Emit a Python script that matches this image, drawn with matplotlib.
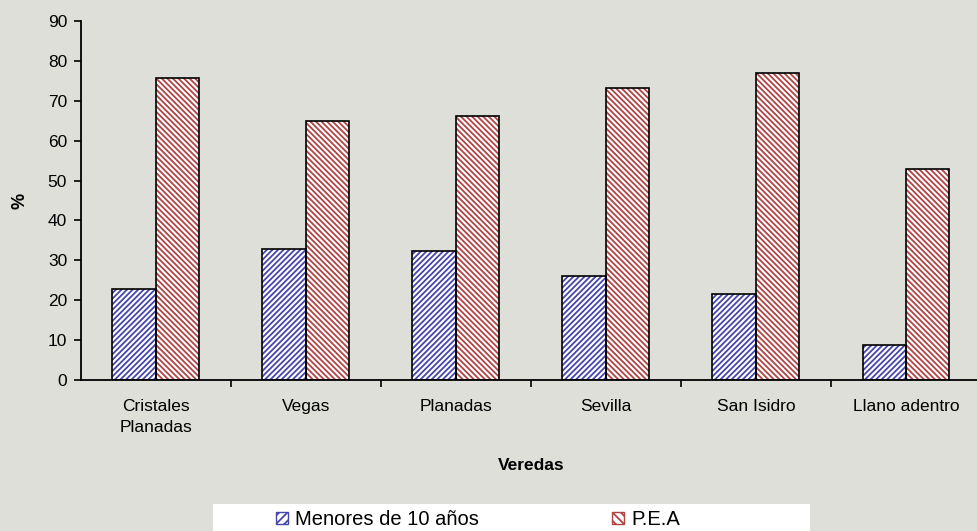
import matplotlib
matplotlib.use("Agg")
import matplotlib.pyplot as plt
import numpy as np
from matplotlib.patches import Patch, Rectangle

categories = ["Cristales\nPlanadas", "Vegas", "Planadas", "Sevilla", "San Isidro", "Llano adentro"]
menores = [22.8, 32.8, 32.3, 26.1, 21.6, 8.8]
pea = [75.7, 64.9, 66.2, 73.2, 76.9, 52.9]
series_names = ["Menores de 10 años", "P.E.A"]
yticks = list(range(0, 100, 10))

plt.rcParams['font.family'] = ['Liberation Sans', 'DejaVu Sans']
plt.rcParams['hatch.linewidth'] = 1.3

W, H = 978, 531
bg = "#dedfd9"
fig = plt.figure(figsize=(W/100, H/100), dpi=100, facecolor=bg)
ax = fig.add_axes([81/W, 1-380/H, 900/W, (380-21)/H])
ax.set_facecolor(bg)

x = np.arange(len(categories))
w = 0.29
blue = "#4646ac"
red = "#b04444"
ax.bar(x - w/2, menores, w, facecolor="white", edgecolor=blue, hatch="//////", linewidth=0)
ax.bar(x + w/2, pea, w, facecolor="white", edgecolor=red, hatch="\\\\\\\\\\\\", linewidth=0)
ax.bar(x - w/2, menores, w, facecolor="none", edgecolor="black", linewidth=1.2)
ax.bar(x + w/2, pea, w, facecolor="none", edgecolor="black", linewidth=1.2)

ax.set_xlim(-0.5, len(categories) - 0.5)
ax.set_ylim(0, 90)
ax.set_yticks(yticks)
ax.set_xticks(x)
ax.set_xticklabels(categories, fontsize=12.5, va="top", linespacing=1.45)
ax.tick_params(axis="x", which="major", length=0, pad=14)
ax.set_xticks(np.arange(0.5, len(categories) - 0.5, 1), minor=True)
ax.tick_params(axis="x", which="minor", length=5, width=1.2, direction="out")
ax.tick_params(axis="y", length=5, width=1.2, labelsize=12.5, pad=5)
for s in ["top", "right"]:
    ax.spines[s].set_visible(False)
ax.spines["left"].set_linewidth(1.3)
ax.spines["bottom"].set_linewidth(1.3)

ax.set_xlabel("Veredas", fontsize=12.5, fontweight="bold")
ax.xaxis.set_label_coords(0.5, -(466-380)/359, transform=ax.transAxes)
ax.xaxis.label.set_va("center")
ax.set_ylabel("%", fontsize=13, fontweight="bold")
ax.yaxis.set_label_coords((20-81)/900, 0.5)
ax.yaxis.label.set_va("center")

# legend box
fig.patches.append(Rectangle((213/W, 0), (810-213)/W, 1-504/H, transform=fig.transFigure,
                             facecolor="white", edgecolor="none", zorder=0))
handles = [Patch(facecolor="white", edgecolor=blue, hatch="////", label=series_names[0]),
           Patch(facecolor="white", edgecolor=red, hatch="\\\\\\\\", label=series_names[1])]
for h, xpos in zip(handles, [276, 612]):
    fig.legend(handles=[h], loc="upper left", bbox_to_anchor=(xpos/W, 1-510/H),
               bbox_transform=fig.transFigure, frameon=False, fontsize=14.5,
               handlelength=0.6, handleheight=0.6, borderaxespad=0, borderpad=0,
               handletextpad=0.35)

fig.savefig("out.png", dpi=100, facecolor=bg)
